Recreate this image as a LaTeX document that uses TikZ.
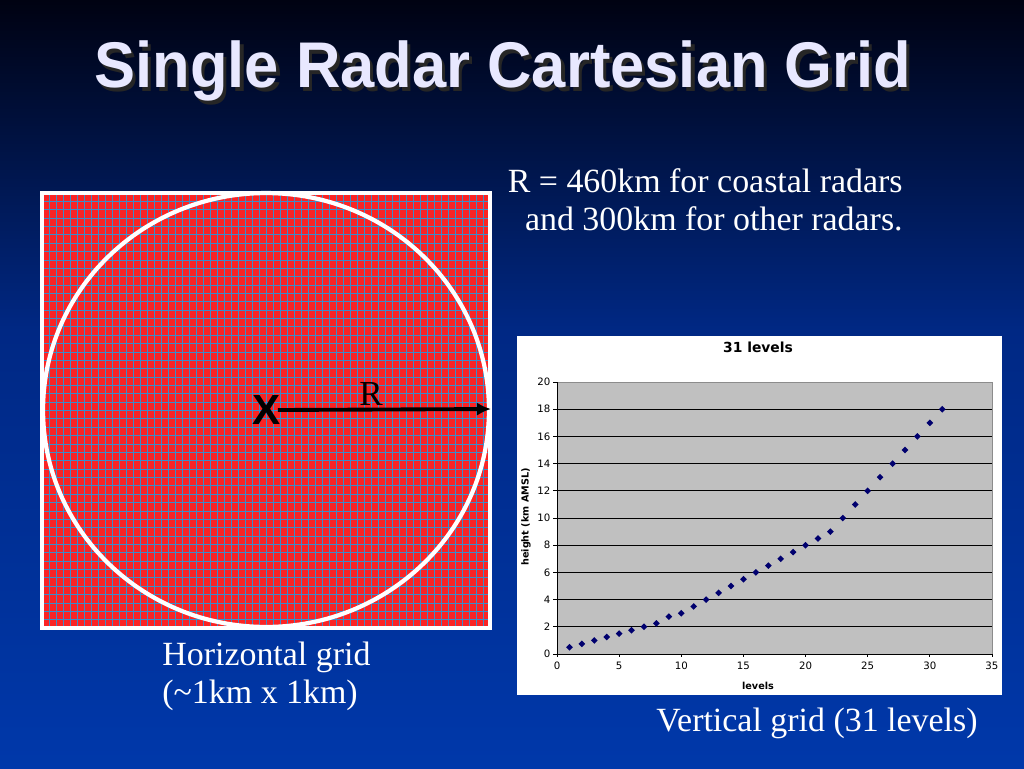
\documentclass[tikz,border=0pt]{standalone}
\usepackage{fontspec}
\setmainfont{Liberation Serif}
\setsansfont{Liberation Sans}
\newfontfamily\chartfont{DejaVu Sans}
\usepackage{tikz}
\usetikzlibrary{arrows.meta,shapes.geometric}

\definecolor{bgtop}{RGB}{0,2,18}
\definecolor{bgmid}{RGB}{0,40,132}
\definecolor{bgbot}{RGB}{0,56,170}
\definecolor{titlecol}{RGB}{232,232,255}
\definecolor{gridred}{RGB}{250,36,36}
\definecolor{gridblue}{RGB}{62,140,200}
\definecolor{plotgray}{RGB}{192,192,192}
\definecolor{ptnavy}{RGB}{0,0,110}

\newcommand{\slidetitle}{Single Radar Cartesian Grid}

\tikzset{
	slidetext/.style={text=white,inner sep=0pt,font=\fontsize{19.3}{21.5}\selectfont},
	titletext/.style={inner sep=0pt,font=\sffamily\bfseries\fontsize{35}{40}\selectfont},
	ticklabel/.style={inner sep=0pt,font=\chartfont\fontsize{5.8}{6}\selectfont},
	axislabel/.style={inner sep=0pt,font=\chartfont\bfseries\fontsize{5.5}{6}\selectfont},
	datapt/.style={diamond,fill=ptnavy,inner sep=0pt,minimum size=4pt},
	gridline/.style={gridblue,line width=0.45pt}
}

\begin{document}
\begin{tikzpicture}[x=0.02cm,y=-0.02cm]
	\useasboundingbox (0,0) rectangle (1024,768);
	\shade[top color=bgtop,bottom color=bgmid] (0,0) rectangle (1024,330);
	\shade[top color=bgmid,bottom color=bgbot] (0,330) rectangle (1024,768);

	% title, with its shadow
	\node[titletext,text=titlecol,yscale=1.05] (title) at (503,73)
		{\makebox[0pt][l]{\kern1.8pt\raisebox{-1.8pt}{\color{black!85}\slidetitle}}\slidetitle};

	% horizontal grid
	\fill[gridred] (42,193) rectangle (490,628);
	\foreach \i in {0,...,64}{
		\draw[gridline] ({42+\i*7},193) -- ++(0,435);}
	\foreach \j in {0,...,52}{
		\draw[gridline] (42,{193+\j*8.3654}) -- ++(448,0);}
	\draw[white,line width=1.8pt] (42,193) rectangle (490,628);
	\draw[white,line width=2.4pt] (266,410) ellipse (4.46cm and 4.34cm);

	\node[inner sep=0pt,font=\sffamily\bfseries\fontsize{24}{26}\selectfont] (centre) at (267,410) {X};
	\coordinate (redge) at (491,409);
	\draw[line width=2.2pt,-{Latex[length=8pt,width=7.5pt]}] ([xshift=-2pt]centre.east) -- (redge);
	\node[inner sep=0pt,font=\fontsize{20}{22}\selectfont] (rlabel) at (371,394) {R};

	\node[slidetext,align=right,anchor=east] (radius) at (903,200)
		{R = 460km for coastal radars\\and 300km for other radars.};
	\node[slidetext,align=left,anchor=west] (hgrid) at (162,676)
		{Horizontal grid\\(\textasciitilde1km x 1km)};
	\node[slidetext] (vgrid) at (817,723) {Vertical grid (31 levels)};

	% vertical levels chart
	\fill[white] (517,336) rectangle (1002,695);
	\node[inner sep=0pt,font=\chartfont\bfseries\fontsize{7.9}{9}\selectfont] (charttitle) at (758,347) {31 levels};
	\node[axislabel] (xlabel) at (758,686) {levels};
	\node[axislabel,rotate=90] (ylabel) at (526,517) {height (km AMSL)};
	\begin{scope}[shift={(557,654)},x=0.2486cm,y=0.272cm]
		\fill[plotgray] (0,0) rectangle (35,20);
		\foreach \y in {2,4,...,18}{
			\draw[line width=0.55pt] (0,\y) -- (35,\y);}
		\draw[black!45,line width=0.5pt] (0,20) -- (35,20) -- (35,0);
		\draw[line width=0.55pt] (0,20) -- (0,0) -- (35,0);
		\foreach \y in {0,2,...,20}{
			\draw[line width=0.5pt] (0,\y) -- ++(-0.3,0);
			\node[ticklabel,anchor=east] (ytick\y) at (-0.5,\y) {\y};}
		\foreach \x in {0,5,...,35}{
			\draw[line width=0.5pt] (\x,0) -- ++(0,-0.25);
			\node[ticklabel,anchor=north] (xtick\x) at (\x,-0.55) {\x};}
		\foreach \lv/\h in {1/0.5,2/0.75,3/1,4/1.25,5/1.5,6/1.75,7/2,8/2.25,9/2.75,10/3,
			11/3.5,12/4,13/4.5,14/5,15/5.5,16/6,17/6.5,18/7,19/7.5,20/8,21/8.5,22/9,
			23/10,24/11,25/12,26/13,27/14,28/15,29/16,30/17,31/18}{
			\node[datapt] (pt\lv) at (\lv,\h) {};}
	\end{scope}
\end{tikzpicture}
\end{document}
